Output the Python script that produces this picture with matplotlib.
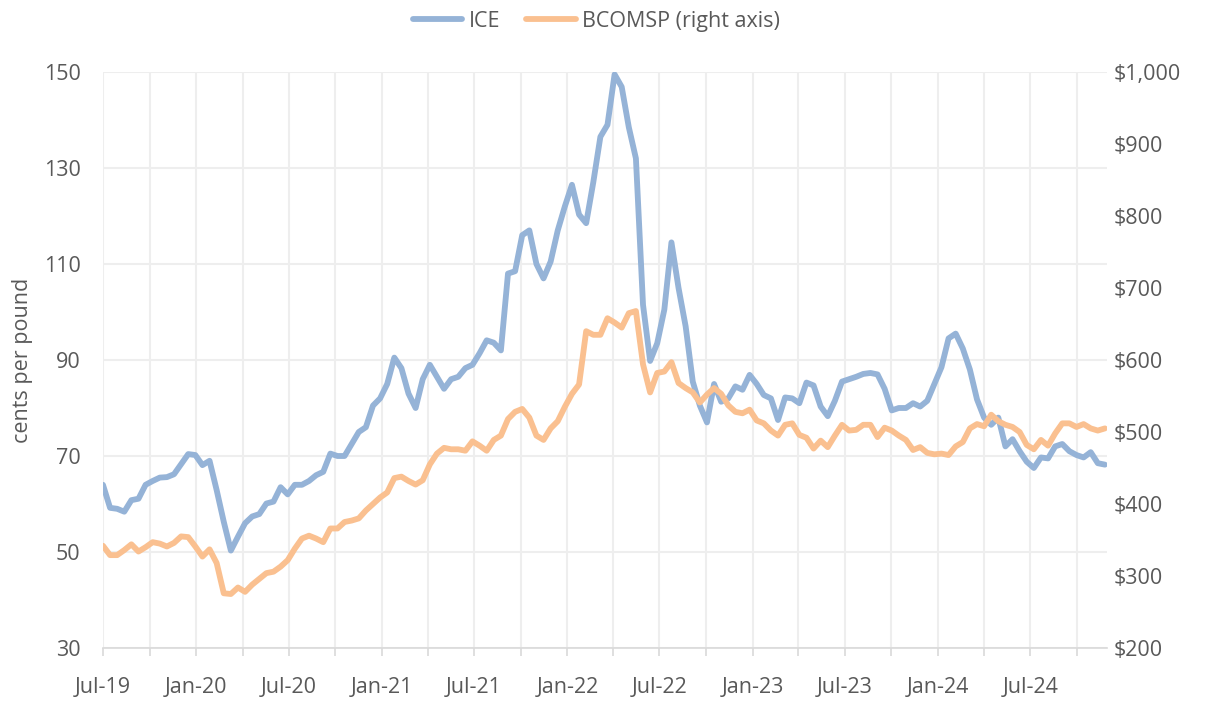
import matplotlib
matplotlib.use("Agg")
import matplotlib.pyplot as plt
import matplotlib.dates as mdates
from matplotlib.ticker import FuncFormatter, FixedLocator
import pandas as pd

start_date = "2019-07-05"
ice = [64, 59.2, 59, 58.4, 60.8, 61.1, 64, 64.8, 65.5, 65.6,
       66.2, 68.3, 70.4, 70.2, 68.1, 69, 62.9, 56.3, 50.3, 53.2,
       56, 57.4, 57.9, 60.1, 60.5, 63.5, 62, 64, 64, 64.8,
       66, 66.7, 70.5, 70, 70, 72.5, 75, 76, 80.5, 82,
       85, 90.5, 88.3, 83, 80, 86, 89, 86.5, 84, 86,
       86.5, 88.3, 89, 91.4, 94.1, 93.6, 92, 108, 108.5, 116,
       117, 110, 107, 110.5, 117, 122, 126.5, 120.3, 118.5, 127,
       136.5, 139, 149.5, 146.9, 138.5, 132, 101.5, 89.8, 93.5, 100.5,
       114.5, 105, 97, 85.5, 80.5, 77, 85, 81.3, 82, 84.5,
       83.8, 86.9, 85, 82.7, 82, 77.5, 82.2, 82, 81, 85.3,
       84.7, 80.3, 78.3, 81.5, 85.5, 86, 86.5, 87.1, 87.3, 87,
       84, 79.5, 80, 80, 81, 80.3, 81.5, 85, 88.5, 94.5,
       95.5, 92.4, 88, 81.8, 78, 76.5, 78, 72, 73.5, 71,
       68.8, 67.5, 69.7, 69.5, 72, 72.5, 71, 70.2, 69.7, 70.8,
       68.5, 68.2]
bcomsp = [342, 329, 329, 336, 344, 334, 340, 347, 345, 341,
          346, 355, 354, 341, 327, 337, 318, 276, 275, 284,
          278, 288, 296, 304, 306, 313, 322, 338, 352, 356,
          352, 347, 366, 366, 375, 377, 380, 391, 400, 409,
          416, 436, 438, 432, 427, 433, 455, 470, 478, 476,
          476, 474, 487, 481, 474, 489, 495, 518, 528, 532,
          520, 495, 489, 505, 515, 535, 553, 566, 640, 635,
          635, 658, 652, 645, 665, 668, 594, 555, 582, 584,
          597, 568, 561, 555, 541, 552, 561, 553, 537, 528,
          526, 531, 516, 512, 502, 495, 510, 512, 496, 492,
          477, 488, 479, 495, 510, 502, 503, 510, 510, 493,
          506, 502, 495, 489, 475, 479, 471, 469, 470, 468,
          480, 486, 505, 511, 508, 524, 515, 510, 507, 500,
          482, 476, 489, 481, 498, 512, 512, 507, 511, 505,
          502, 505]
left_ticks = [30, 50, 70, 90, 110, 130, 150]
right_ticks = [200, 300, 400, 500, 600, 700, 800, 900, 1000]

dates = pd.date_range(start_date, periods=len(ice), freq="14D")

plt.rcParams['font.family'] = ['Open Sans', 'DejaVu Sans']
TXT = '#595959'
BLUE = '#95B3D7'
ORANGE = '#FAC090'
GRID = '#EEEEEE'
FS = 15.5

fig = plt.figure(figsize=(12.07, 7.01), dpi=100)
ax = fig.add_axes([0.0853, 0.0756, 0.8318, 0.8217])
ax2 = ax.twinx()

l1, = ax.plot(dates, ice, color=BLUE, lw=4.2, solid_capstyle='round', solid_joinstyle='round', label='ICE', zorder=3)
l2, = ax2.plot(dates, bcomsp, color=ORANGE, lw=4.2, solid_capstyle='round', solid_joinstyle='round', label='BCOMSP (right axis)', zorder=3)

ax.set_ylim(30, 150)
ax2.set_ylim(200, 1000)
ax.set_xlim(dates[0], dates[-1] + pd.Timedelta(days=4))
ax.set_yticks(left_ticks)
ax2.set_yticks(right_ticks)
ax2.yaxis.set_major_formatter(FuncFormatter(lambda v, p: f"${v:,.0f}"))

major = [dates[0] + pd.DateOffset(months=6 * i) for i in range(11)]
minor = [dates[0] + pd.DateOffset(months=3 * i) for i in range(22)]
ax.xaxis.set_major_locator(FixedLocator(mdates.date2num(major)))
ax.xaxis.set_minor_locator(FixedLocator(mdates.date2num(minor)))
ax.xaxis.set_major_formatter(mdates.DateFormatter('%b-%y'))

ax.grid(True, axis='y', color=GRID, lw=1.5, zorder=0)
ax.grid(True, axis='x', which='minor', color=GRID, lw=1.5, zorder=0)
ax.grid(True, axis='x', which='major', color=GRID, lw=1.5, zorder=0)
ax.set_axisbelow(True)

for a in (ax, ax2):
    for s in ('top', 'right', 'left'):
        a.spines[s].set_visible(False)
ax2.spines['bottom'].set_visible(False)
ax.spines['bottom'].set_color('#D9D9D9')
ax.spines['bottom'].set_linewidth(1.2)

ax.tick_params(axis='x', which='both', length=6, color='#D9D9D9', width=1.2, labelsize=FS, labelcolor=TXT, pad=15)
ax.tick_params(axis='y', length=0, labelsize=FS, labelcolor=TXT, pad=16)
ax2.tick_params(axis='y', length=0, labelsize=FS, labelcolor=TXT, pad=5)

ax.set_ylabel('cents per pound', fontsize=FS, color=TXT, labelpad=8)

fig.legend(handles=[l1, l2], loc='upper center', bbox_to_anchor=(0.494, 1.012), ncol=2, frameon=False,
           fontsize=FS, labelcolor=TXT, handlelength=2.3, columnspacing=1.2, handletextpad=0.3)

fig.savefig('out.png', dpi=100)
